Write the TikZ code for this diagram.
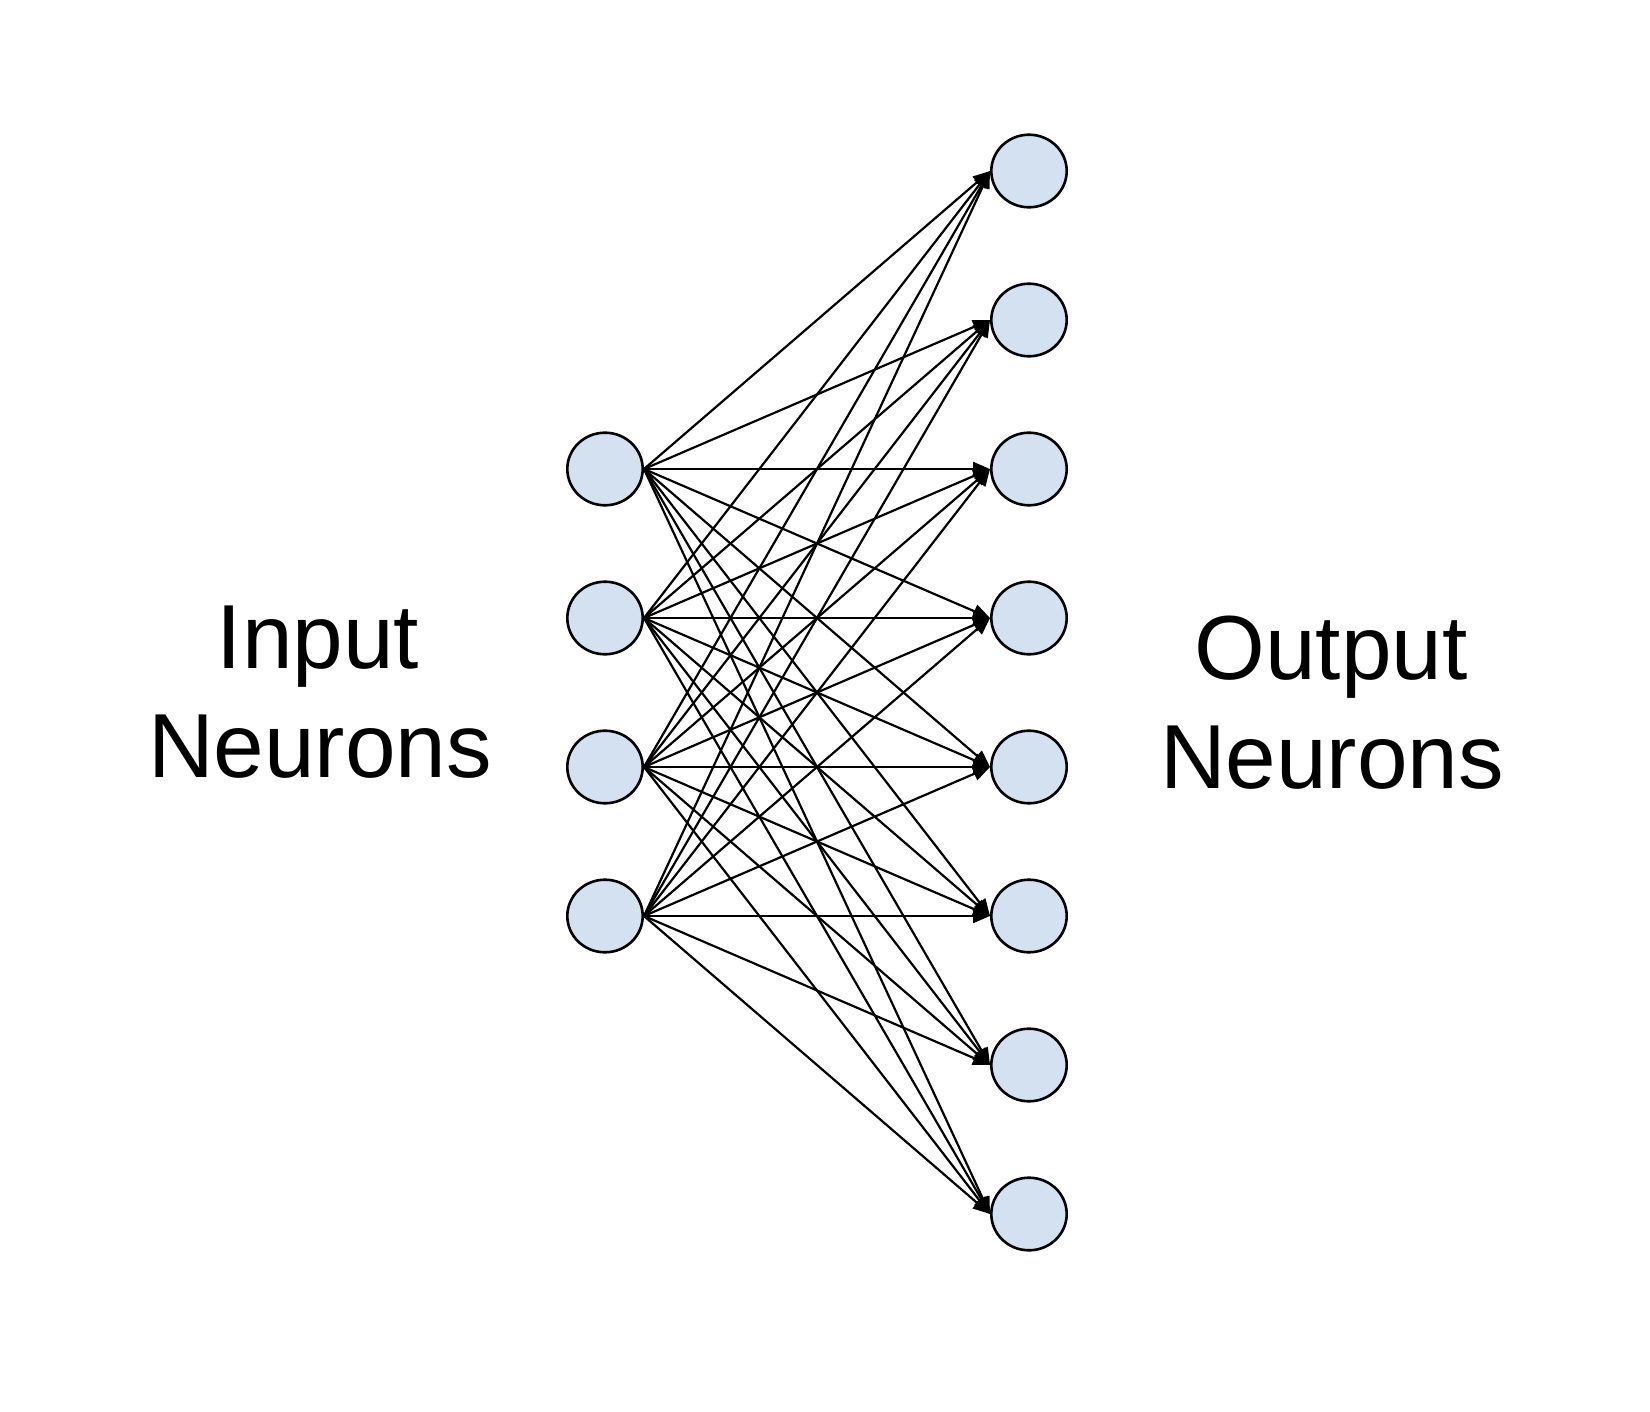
\documentclass[tikz,border=0pt]{standalone}
\usepackage{fontspec}
\setmainfont{Liberation Sans}
\usetikzlibrary{arrows.meta,shapes.geometric}
\definecolor{neuronfill}{RGB}{212,225,241}
\begin{document}
\begin{tikzpicture}[x=0.5pt,y=-0.5pt,
  neuron/.style={ellipse,draw=black,line width=1.3pt,fill=neuronfill,minimum width=37.7pt,minimum height=36.3pt,inner sep=0pt},
  link/.style={-{Triangle[length=8.5pt,width=7pt]},line width=1.1pt,draw=black},
  textlabel/.style={font=\fontsize{45.5}{55}\selectfont,anchor=base,inner sep=0pt}]
\useasboundingbox (0,0) rectangle (1650,1412);
\foreach \y [count=\k] in {469,618,767,916}
  \node[neuron] (in\k) at (605,\y) {};
\foreach \y [count=\k] in {171,320,469,618,767,916,1065,1214}
  \node[neuron] (out\k) at (1029,\y) {};
\foreach \a in {1,...,4}
  \foreach \b in {1,...,8}
    \draw[link] (in\a.east) -- (out\b.west);
\node[textlabel] (inputA) at (318,668) {Input};
\node[textlabel] (inputB) at (320,777) {Neurons};
\node[textlabel] (outputA) at (1331,679) {Output};
\node[textlabel] (outputB) at (1332,788) {Neurons};
\end{tikzpicture}
\end{document}
